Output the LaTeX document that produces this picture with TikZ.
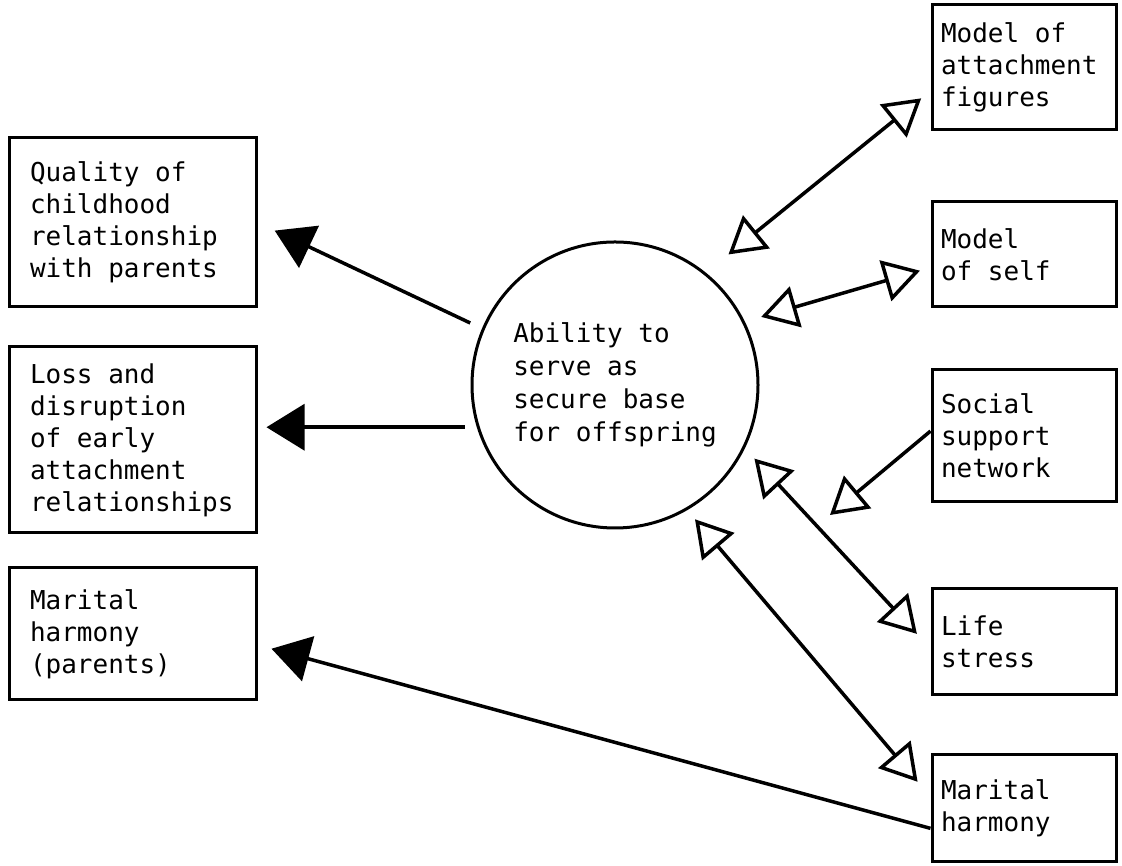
\documentclass[tikz,border=0pt]{standalone}
\usepackage{fontspec}
\setmonofont{DejaVu Sans Mono}
\usetikzlibrary{arrows.meta,positioning}

\begin{document}
\begin{tikzpicture}[x=1pt,y=1pt,>={Triangle[length=38pt,width=46pt]},line width=3.5pt]
  \tikzstyle{box}=[draw,line width=3pt,align=flush left,inner ysep=0pt,font=\ttfamily\fontsize{26pt}{32pt}\selectfont]
  \tikzstyle{lbox}=[box,text width=205pt,inner xsep=21pt]
  \tikzstyle{rbox}=[box,text width=166pt,inner xsep=9pt]
  \tikzstyle{dbl}=[<->,>={Triangle[open,length=36pt,width=42pt]}]
  \useasboundingbox (0,0) rectangle (1122,866);
  \node[circle,draw,line width=3pt,minimum size=286pt,inner sep=0pt,align=left,
        font=\ttfamily\fontsize{26pt}{33pt}\selectfont] (circ) at (615,481)
        {Ability to\\serve as\\secure base\\for offspring};
  \node[lbox,minimum height=169pt] (qual) at (132.5,643.5) {Quality of\\childhood\\relationship\\with parents};
  \node[lbox,minimum height=186pt,below=37pt of qual] (loss) {Loss and\\disruption\\of early\\attachment\\relationships};
  \node[lbox,minimum height=132pt,below=32pt of loss] (mpar) {Marital\\harmony\\(parents)};
  \node[rbox,minimum height=125pt] (attach) at (1024,798.5) {Model of\\attachment\\figures};
  \node[rbox,minimum height=105pt,below=69pt of attach] (self) {Model\\of self};
  \node[rbox,minimum height=132pt,below=60pt of self] (social) {Social\\support\\network};
  \node[rbox,minimum height=106pt,below=84pt of social] (life) {Life\\stress};
  \node[rbox,minimum height=107pt,below=57pt of life] (mhar) {Marital\\harmony};
  \coordinate (sstip) at (830,351);
  \draw[->,shorten <=13pt,shorten >=19pt] (circ.157) -- (qual.east);
  \draw[->,shorten <=12pt,shorten >=9pt] (circ.197) -- (circ.197 -| loss.east);
  \draw[->,shorten >=14.5pt] (mhar.192) -- (mpar.-5);
  \draw[dbl,shorten <=29pt,shorten >=12pt] (circ.51) -- (attach.194);
  \draw[dbl,shorten <=17pt,shorten >=11pt] (circ.26) -- (self.188);
  \draw[->,>={Triangle[open,length=36pt,width=42pt]}] (social.177) -- (sstip);
  \draw[dbl,shorten <=14pt,shorten >=20pt] (circ.-26) -- (life.184);
  \draw[dbl,shorten <=12pt,shorten >=20pt] (circ.-60) -- (mhar.173);
\end{tikzpicture}
\end{document}
